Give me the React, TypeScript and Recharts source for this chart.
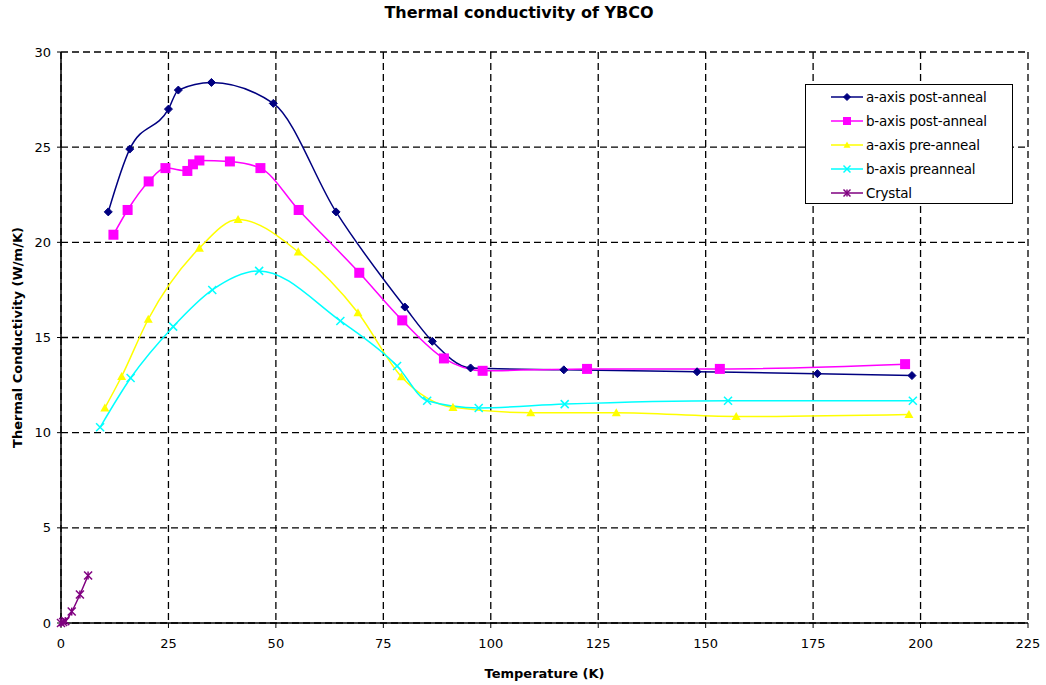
import React from 'react';
import { LineChart, Line, XAxis, YAxis, CartesianGrid, Legend, Label } from 'recharts';

// temperatures (K) and conductivities (W/m/K)
const aPostT = [11, 16, 25, 27.3, 35, 49.4, 64, 80, 86.4, 95.3, 117, 148, 176, 198];
const aPostK = [21.6, 24.9, 27.0, 28.0, 28.4, 27.3, 21.6, 16.6, 14.8, 13.4, 13.3, 13.2, 13.1, 13.0];

const bPostT = [12.2, 15.5, 20.4, 24.3, 29.4, 30.7, 32.2, 39.3, 46.4, 55.3, 69.4, 79.4, 89.1, 98.1, 122.4, 153.3, 196.4];
const bPostK = [20.4, 21.7, 23.2, 23.9, 23.75, 24.1, 24.3, 24.25, 23.9, 21.7, 18.4, 15.9, 13.9, 13.25, 13.35, 13.35, 13.6];

const aPreT = [10.2, 14.1, 20.3, 32.2, 41.2, 55.2, 69.1, 79.2, 91.2, 109.3, 129.2, 157.1, 197.3];
const aPreK = [11.3, 12.95, 15.96, 19.7, 21.2, 19.5, 16.3, 12.94, 11.33, 11.05, 11.05, 10.85, 10.96];

const bPreT = [9.1, 16.2, 26.1, 35.2, 46.1, 65, 78.2, 85.2, 97.2, 117.2, 155.2, 198.2];
const bPreK = [10.28, 12.87, 15.57, 17.5, 18.5, 15.87, 13.5, 11.68, 11.3, 11.5, 11.68, 11.68];

const crystalT = [0, 0.5, 1, 2.5, 4.4, 6.3];
const crystalK = [0, 0.05, 0.1, 0.6, 1.5, 2.5];

const xTicks = [0, 25, 50, 75, 100, 125, 150, 175, 200, 225];
const yTicks = [0, 5, 10, 15, 20, 25, 30];

const zip = (t: number[], k: number[]) => t.map((x, i) => ({ x, y: k[i] }));

const FONT = '"DejaVu Sans", Verdana, sans-serif';

// marker shapes (Excel style)
const Diamond = ({ cx, cy, color, s = 4 }: any) => (
  <polygon points={`${cx},${cy - s} ${cx + s},${cy} ${cx},${cy + s} ${cx - s},${cy}`} fill={color} stroke={color} />
);
const Square = ({ cx, cy, color, s = 5 }: any) => (
  <rect x={cx - s} y={cy - s} width={s * 2} height={s * 2} fill={color} />
);
const Triangle = ({ cx, cy, color, s = 4.5 }: any) => (
  <polygon points={`${cx},${cy - s} ${cx + s},${cy + s * 0.8} ${cx - s},${cy + s * 0.8}`} fill={color} />
);
const Cross = ({ cx, cy, color, s = 4 }: any) => (
  <g stroke={color} strokeWidth={1.5}>
    <line x1={cx - s} y1={cy - s} x2={cx + s} y2={cy + s} />
    <line x1={cx - s} y1={cy + s} x2={cx + s} y2={cy - s} />
  </g>
);
const Star = ({ cx, cy, color, s = 4 }: any) => (
  <g stroke={color} strokeWidth={1.5}>
    <line x1={cx - s} y1={cy - s} x2={cx + s} y2={cy + s} />
    <line x1={cx - s} y1={cy + s} x2={cx + s} y2={cy - s} />
    <line x1={cx} y1={cy - s} x2={cx} y2={cy + s} />
  </g>
);

const series = [
  { name: 'a-axis post-anneal', data: zip(aPostT, aPostK), color: '#000080', Marker: Diamond },
  { name: 'b-axis post-anneal', data: zip(bPostT, bPostK), color: '#FF00FF', Marker: Square },
  { name: 'a-axis pre-anneal', data: zip(aPreT, aPreK), color: '#FFFF00', Marker: Triangle },
  { name: 'b-axis preanneal', data: zip(bPreT, bPreK), color: '#00FFFF', Marker: Cross },
  { name: 'Crystal', data: zip(crystalT, crystalK), color: '#800080', Marker: Star },
];

const LegendBox = () => (
  <div style={{ border: '1px solid #000', background: '#fff', width: 206, height: 118, fontFamily: FONT, fontSize: 13.5, letterSpacing: -0.2 }}>
    {series.map((s) => (
      <div key={s.name} style={{ height: 24, display: 'flex', alignItems: 'center' }}>
        <svg width={60} height={14}>
          <line x1={25} y1={7} x2={57} y2={7} stroke={s.color} strokeWidth={1.5} />
          <s.Marker cx={41} cy={7} color={s.color} s={s.Marker === Square ? 4 : 3.5} />
        </svg>
        <span style={{ color: '#000' }}>{s.name}</span>
      </div>
    ))}
  </div>
);

export default function App() {
  const tick = { fontSize: 13, fill: '#000', fontFamily: FONT };
  return (
    <div style={{ position: 'absolute', left: 0, top: 0, width: 1046, height: 685, background: '#fff' }}>
      <div style={{ position: 'absolute', left: 0, top: 3, width: 1038, textAlign: 'center', fontFamily: FONT, fontWeight: 'bold', fontSize: 16 }}>
        Thermal conductivity of YBCO
      </div>
      <LineChart width={1046} height={685} margin={{ top: 52, right: 18, bottom: 22, left: 31 }}>
        <CartesianGrid stroke="#000" strokeDasharray="7 4" strokeWidth={1.3} />
        <XAxis
          type="number"
          dataKey="x"
          domain={[0, 225]}
          ticks={xTicks}
          height={40}
          tick={tick}
          tickSize={5}
          tickMargin={11}
          axisLine={{ stroke: '#000', strokeWidth: 1.5 }}
          tickLine={{ stroke: '#000' }}
        >
          <Label
            content={({ viewBox }: any) => (
              <text x={viewBox.x + viewBox.width / 2} y={678} textAnchor="middle" fontFamily={FONT} fontWeight="bold" fontSize={13}>
                Temperature (K)
              </text>
            )}
          />
        </XAxis>
        <YAxis
          type="number"
          domain={[0, 30]}
          ticks={yTicks}
          width={30}
          tick={tick}
          tickSize={4}
          tickMargin={6}
          axisLine={{ stroke: '#000', strokeWidth: 1.5 }}
          tickLine={{ stroke: '#000' }}
        >
          <Label
            content={({ viewBox }: any) => {
              const cy = viewBox.y + viewBox.height / 2;
              return (
                <text x={22} y={cy} transform={`rotate(-90 22 ${cy})`} textAnchor="middle" fontFamily={FONT} fontWeight="bold" fontSize={13}>
                  Thermal Conductivity (W/m/K)
                </text>
              );
            }}
          />
        </YAxis>
        {series.map((s) => (
          <Line
            key={s.name}
            data={s.data}
            dataKey="y"
            name={s.name}
            type="monotone"
            stroke={s.color}
            strokeWidth={1.5}
            isAnimationActive={false}
            activeDot={false}
            dot={(p: any) => <s.Marker key={`${s.name}-${p.index}`} cx={p.cx} cy={p.cy} color={s.color} />}
          />
        ))}
        <Legend
          layout="vertical"
          align="center"
          verticalAlign="middle"
          wrapperStyle={{ left: 805, top: 84, width: 208, height: 120 }}
          content={() => <LegendBox />}
        />
      </LineChart>
    </div>
  );
}
